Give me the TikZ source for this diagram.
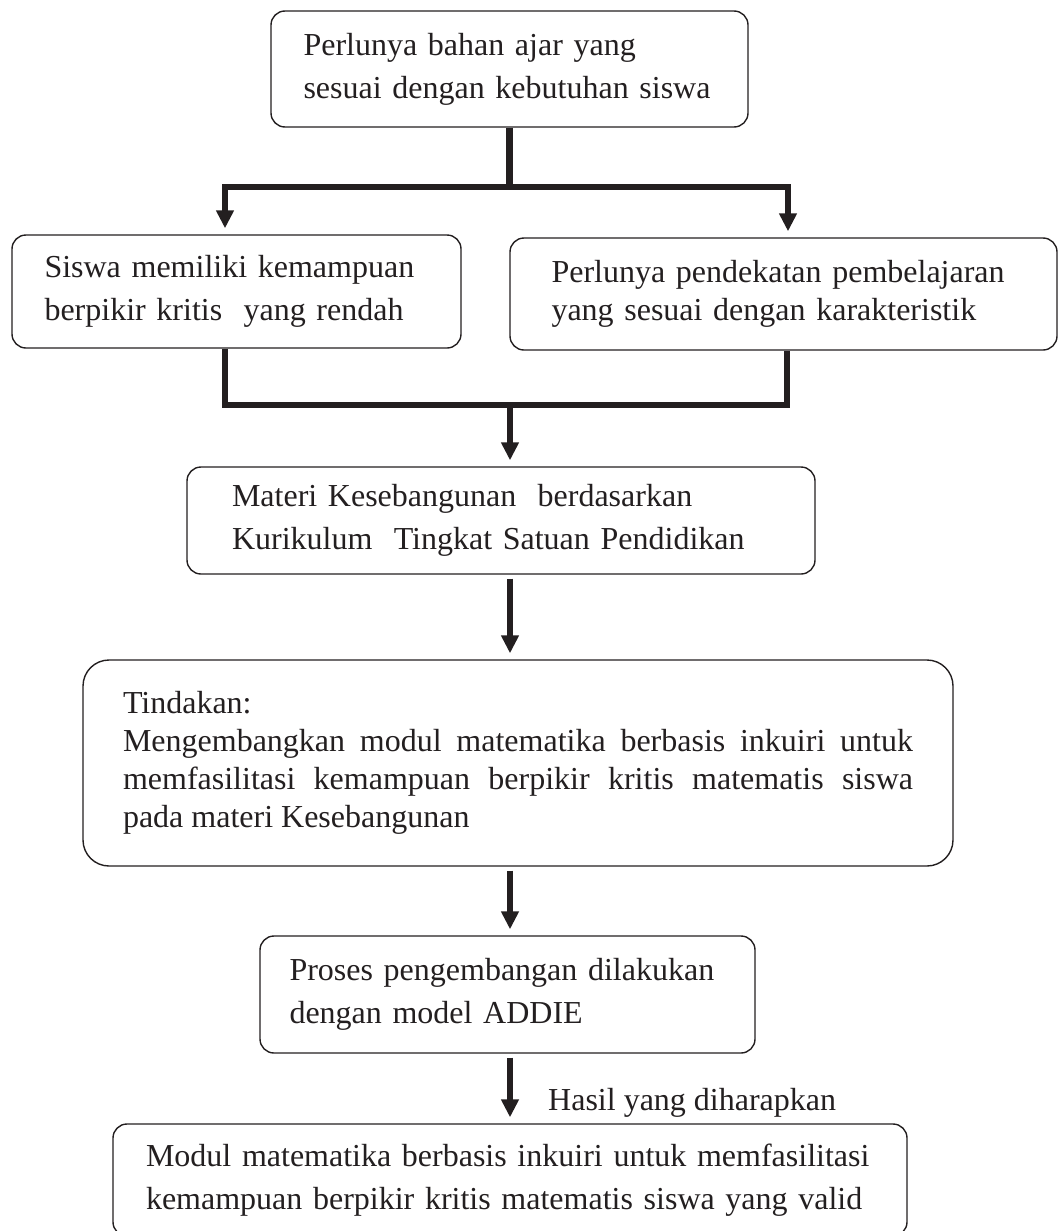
\documentclass[tikz,border=0pt]{standalone}
\usepackage{fontspec}
\setmainfont{Liberation Serif}
\usetikzlibrary{arrows.meta,positioning}
\definecolor{tinta}{HTML}{231F20}
\tikzset{
	kotak/.style={draw=tinta, line width=0.7pt, rounded corners=7pt, align=left, inner sep=0pt},
	alur/.style={draw=tinta, line width=3.2pt},
	panah/.style={alur, -{Triangle[width=8.5pt,length=9pt]}, shorten >=3pt},
	turun/.style={panah, shorten <=2pt},
	keterangan/.style={inner sep=0pt}
}
\begin{document}
\begin{tikzpicture}[x=1pt, y=-1pt, text=tinta, font=\fontsize{16pt}{21.5pt}\selectfont]
	\useasboundingbox (0,0) rectangle (529.5,615.5);
	% kotak
	\node[kotak, minimum width=238.5pt, minimum height=58pt, text width=206pt] (butuh) at (254.75,34.5) {Perlunya bahan ajar yang\\ sesuai dengan kebutuhan siswa};
	\node[kotak, minimum width=224.5pt, minimum height=56.5pt, text width=192pt] (rendah) at (118.25,145.75) {Siswa memiliki kemampuan\\ berpikir kritis\ \ yang rendah};
	\node[kotak, minimum width=273.5pt, minimum height=56pt, text width=232pt, font=\fontsize{16pt}{19pt}\selectfont] (pendekatan) at (391.75,147) {Perlunya pendekatan pembelajaran\\ yang sesuai dengan karakteristik};
	\node[kotak, minimum width=314pt, minimum height=53.5pt, text width=269pt] (materi) at (250.5,260.25) {Materi Kesebangunan\ \ berdasarkan\\ Kurikulum\ \ Tingkat Satuan Pendidikan};
	\node[kotak, rounded corners=13pt, align=justify, minimum width=435pt, minimum height=103pt, text width=395pt, font=\fontsize{16pt}{19pt}\selectfont] (tindakan) at (259,381.5) {Tindakan:\\ Mengembangkan modul matematika berbasis inkuiri untuk\linebreak memfasilitasi kemampuan berpikir kritis matematis siswa\linebreak pada materi Kesebangunan};
	\node[kotak, minimum width=247.5pt, minimum height=58.5pt, text width=218pt] (proses) at (253.75,497.25) {Proses pengembangan dilakukan\\ dengan model ADDIE};
	\node[kotak, minimum width=397pt, minimum height=56pt, text width=364pt] (modul) at (255,590) {Modul matematika berbasis inkuiri untuk memfasilitasi\\ kemampuan berpikir kritis matematis siswa yang valid};
	% garis
	\coordinate (cabang) at (255.5,93.5);
	\coordinate (gabung) at (255,202.5);
	\coordinate (sumbu) at (255,0);
	\draw[alur] (butuh.south) -- (butuh.south |- cabang);
	\draw[panah] (cabang) -| ([xshift=-5.75pt]rendah.north);
	\draw[panah] (cabang) -| ([xshift=2.25pt]pendekatan.north);
	\draw[alur] ([xshift=-5.75pt]rendah.south) |- (gabung) -| ([xshift=1.75pt]pendekatan.south);
	\draw[panah] (gabung) -- (gabung |- materi.north);
	\draw[turun] (materi.south -| sumbu) -- (tindakan.north -| sumbu);
	\draw[turun] (tindakan.south -| sumbu) -- (proses.north -| sumbu);
	\draw[turun] (proses.south -| sumbu) -- (modul.north -| sumbu) node[keterangan, pos=0.7, right=17.5pt] (hasil) {Hasil yang diharapkan};
\end{tikzpicture}
\end{document}
